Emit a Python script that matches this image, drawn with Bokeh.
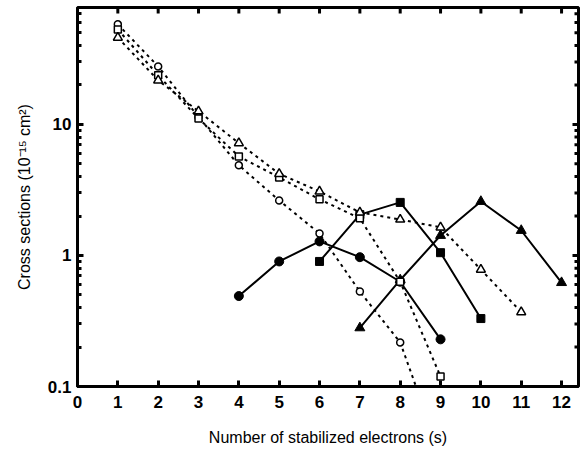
import math
from bokeh.plotting import figure
from bokeh.models import FixedTicker, NumeralTickFormatter, Range1d
from bokeh.embed import file_html
from bokeh.resources import INLINE

# --- data ---
s_open = [1, 2, 3, 4, 5, 6, 7, 8, 9]
open_circle = [58, 27.7, 11.4, 4.87, 2.63, 1.47, 0.53, 0.217, 0.03]
open_square = [53, 23.7, 11.1, 5.7, 3.94, 2.68, 1.92, 0.63, 0.119]
s_open_tri = [1, 2, 3, 4, 5, 6, 7, 8, 9, 10, 11]
open_triangle = [46, 21.7, 12.6, 7.2, 4.2, 3.08, 2.13, 1.88, 1.64, 0.78, 0.37]

s_fc = [4, 5, 6, 7, 8, 9]
filled_circle = [0.49, 0.9, 1.28, 0.97, 0.63, 0.229]
s_fs = [6, 7, 8, 9, 10]
filled_square = [0.9, 2.05, 2.54, 1.05, 0.33]
s_ft = [7, 8, 9, 10, 11, 12]
filled_triangle = [0.28, 0.65, 1.42, 2.58, 1.55, 0.62]

x_ticks = list(range(0, 13))
y_major = [0.1, 1, 10]
y_minor = [k * 0.1 for k in range(2, 10)] + list(range(2, 10)) + [k * 10 for k in range(2, 8)]

FONT = "Liberation Sans"
X0, X1 = 0, 12.42
Y0, Y1 = 0.1, 78

p = figure(width=582, height=451, y_axis_type="log",
           x_range=Range1d(X0, X1), y_range=Range1d(Y0, Y1),
           output_backend="svg", toolbar_location=None,
           min_border_left=77, min_border_right=4, min_border_top=7, min_border_bottom=65)
p.grid.visible = False
p.outline_line_color = "black"
p.outline_line_width = 3
p.background_fill_color = "white"
p.border_fill_color = "white"

# frame geometry (for mirrored tick marks on top/right)
frame_w = 582 - 77 - 4
frame_h = 451 - 7 - 65
px_x = (X1 - X0) / frame_w
dec_per_px = (math.log10(Y1) - math.log10(Y0)) / frame_h

# lines
dash = "3 4"
p.line(s_open, open_circle, line_color="black", line_width=2, line_dash=dash)
p.line(s_open, open_square, line_color="black", line_width=2, line_dash=dash)
p.line(s_open_tri, open_triangle, line_color="black", line_width=2, line_dash=dash)
p.line(s_fc, filled_circle, line_color="black", line_width=2)
p.line(s_fs, filled_square, line_color="black", line_width=2)
p.line(s_ft, filled_triangle, line_color="black", line_width=2)

# markers
p.scatter(s_fc, filled_circle, marker="circle", size=9, fill_color="black", line_color="black")
p.scatter(s_fs, filled_square, marker="square", size=8, fill_color="black", line_color="black")
p.scatter(s_ft, filled_triangle, marker="triangle", size=10, fill_color="black", line_color="black")
p.scatter(s_open, open_circle, marker="circle", size=7, fill_color="white", line_color="black", line_width=1.5)
p.scatter(s_open, open_square, marker="square", size=7, fill_color="white", line_color="black", line_width=1.5)
p.scatter(s_open_tri, open_triangle, marker="triangle", size=9, fill_color="white", line_color="black", line_width=1.5)

# mirrored tick marks: top (integers) and right (log major/minor)
top_len = 10 ** (-6 * dec_per_px)
p.segment(x0=x_ticks, y0=[Y1] * len(x_ticks), x1=x_ticks, y1=[Y1 * top_len] * len(x_ticks),
          line_color="black", line_width=3)
p.segment(x0=[X1] * len(y_major), y0=y_major, x1=[X1 - 6 * px_x] * len(y_major), y1=y_major,
          line_color="black", line_width=3)
p.segment(x0=[X1] * len(y_minor), y0=y_minor, x1=[X1 - 4 * px_x] * len(y_minor), y1=y_minor,
          line_color="black", line_width=3)

# bottom axis
xa = p.xaxis[0]
xa.ticker = FixedTicker(ticks=x_ticks)
xa.axis_label = "Number of stabilized electrons (s)"
xa.axis_label_standoff = 18
xa.major_label_standoff = 9

# left axis
ya = p.yaxis[0]
ya.ticker = FixedTicker(ticks=y_major, minor_ticks=y_minor)
ya.formatter = NumeralTickFormatter(format="0.[0]")
ya.axis_label = "Cross sections (10⁻¹⁵ cm²)"
ya.axis_label_standoff = 12
ya.major_label_standoff = 6

for ax in (xa, ya):
    ax.axis_label_text_font = FONT
    ax.axis_label_text_font_style = "normal"
    ax.axis_label_text_font_size = "16px"
    ax.major_label_text_font = FONT
    ax.major_label_text_font_style = "bold"
    ax.major_label_text_font_size = "17px"
    ax.axis_line_width = 3
    ax.axis_line_color = "black"
    ax.major_tick_in = 6
    ax.major_tick_out = 0
    ax.major_tick_line_width = 3
    ax.minor_tick_in = 4
    ax.minor_tick_out = 0
    ax.minor_tick_line_width = 3
    ax.major_label_text_color = "black"
    ax.axis_label_text_color = "black"

open("out.html", "w").write(file_html(p, INLINE))
